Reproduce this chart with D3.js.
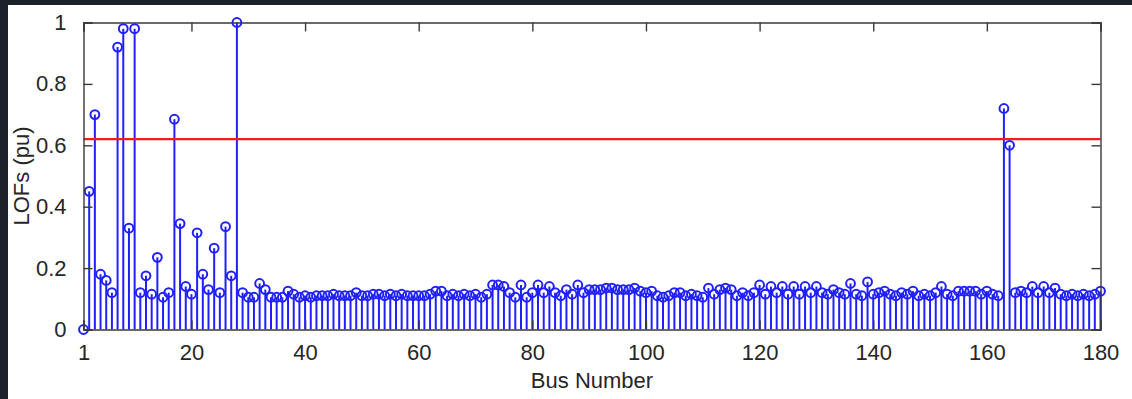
<!DOCTYPE html>
<html>
<head>
<meta charset="utf-8">
<script src="https://cdn.jsdelivr.net/npm/d3@7"></script>
<style>
  html, body { margin: 0; padding: 0; background: #1c212c; }
  svg { display: block; }
  text { font-family: "Liberation Sans", Arial, sans-serif; }
</style>
</head>
<body>
<div id="container"></div>
<script>
const width = 1132, height = 399;

// LOF value per bus (bus numbers 1..180)
const lofValues = [
  0.00, 0.45, 0.70, 0.18, 0.16, 0.12, 0.92, 0.98, 0.33, 0.98,
  0.12, 0.175, 0.115, 0.235, 0.105, 0.12, 0.685, 0.345, 0.14, 0.115,
  0.315, 0.18, 0.13, 0.265, 0.12, 0.335, 0.175, 1.00, 0.12, 0.105,
  0.105, 0.15, 0.13, 0.105, 0.105, 0.105, 0.125, 0.115, 0.105, 0.11,
  0.105, 0.11, 0.11, 0.11, 0.115, 0.11, 0.11, 0.11, 0.12, 0.11,
  0.11, 0.115, 0.115, 0.11, 0.115, 0.11, 0.115, 0.11, 0.11, 0.11,
  0.11, 0.115, 0.125, 0.125, 0.11, 0.115, 0.11, 0.115, 0.11, 0.115,
  0.105, 0.115, 0.145, 0.145, 0.14, 0.12, 0.105, 0.145, 0.105, 0.12,
  0.145, 0.12, 0.14, 0.12, 0.11, 0.13, 0.115, 0.145, 0.12, 0.13,
  0.13, 0.13, 0.135, 0.135, 0.13, 0.13, 0.13, 0.135, 0.125, 0.12,
  0.125, 0.11, 0.105, 0.11, 0.12, 0.12, 0.11, 0.115, 0.11, 0.105,
  0.135, 0.115, 0.13, 0.135, 0.13, 0.11, 0.12, 0.11, 0.12, 0.145,
  0.115, 0.14, 0.12, 0.14, 0.115, 0.14, 0.115, 0.14, 0.12, 0.14,
  0.12, 0.115, 0.13, 0.12, 0.115, 0.15, 0.115, 0.11, 0.155, 0.115,
  0.12, 0.125, 0.115, 0.11, 0.12, 0.115, 0.125, 0.11, 0.115, 0.11,
  0.12, 0.14, 0.115, 0.11, 0.125, 0.125, 0.125, 0.125, 0.115, 0.125,
  0.115, 0.11, 0.72, 0.60, 0.12, 0.125, 0.12, 0.14, 0.12, 0.14,
  0.12, 0.135, 0.115, 0.11, 0.115, 0.11, 0.115, 0.11, 0.115, 0.125
];
const busNumbers = lofValues.map((_, i) => i + 1);
const threshold = 0.62;

const xTicks = [1, 20, 40, 60, 80, 100, 120, 140, 160, 180];
const yTicks = [0, 0.2, 0.4, 0.6, 0.8, 1];

const svg = d3.select("#container").append("svg")
  .attr("width", width).attr("height", height);

// white figure area
svg.append("rect")
  .attr("x", 8).attr("y", 5)
  .attr("width", width - 8).attr("height", height - 5)
  .attr("fill", "#ffffff");

const x = d3.scaleLinear().domain([1, 180]).range([83.5, 1100.5]);
const y = d3.scaleLinear().domain([0, 1]).range([329.5, 22.5]);

const blue = "#2020ff";

// stems
svg.append("g").selectAll("line")
  .data(busNumbers)
  .join("line")
  .attr("x1", d => x(d)).attr("x2", d => x(d))
  .attr("y1", y(0)).attr("y2", (d, i) => y(lofValues[i]))
  .attr("stroke", blue)
  .attr("stroke-width", 2);

// threshold line
svg.append("line")
  .attr("x1", x(1)).attr("x2", x(180))
  .attr("y1", y(threshold)).attr("y2", y(threshold))
  .attr("stroke", "#ff1a1a")
  .attr("stroke-width", 2.2);

// markers
svg.append("g").selectAll("circle")
  .data(busNumbers)
  .join("circle")
  .attr("cx", d => x(d))
  .attr("cy", (d, i) => y(lofValues[i]))
  .attr("r", 4.4)
  .attr("fill", "none")
  .attr("stroke", blue)
  .attr("stroke-width", 2);

// axes, ticks pointing inward
const fmt = d => String(+d.toFixed(1));
const axB = svg.append("g").attr("transform", `translate(0,${y(0)})`)
  .call(d3.axisBottom(x).tickValues(xTicks).tickSize(-9).tickPadding(15).tickFormat(fmt));
const axT = svg.append("g").attr("transform", `translate(0,${y(1)})`)
  .call(d3.axisTop(x).tickValues(xTicks).tickSize(-9).tickFormat(""));
const axL = svg.append("g").attr("transform", `translate(${x(1)},0)`)
  .call(d3.axisLeft(y).tickValues(yTicks).tickSize(-9).tickPadding(17).tickFormat(fmt));
const axR = svg.append("g").attr("transform", `translate(${x(180)},0)`)
  .call(d3.axisRight(y).tickValues(yTicks).tickSize(-9).tickFormat(""));

for (const ax of [axB, axT, axL, axR]) {
  ax.select(".domain").attr("stroke", "#3a3a3a").attr("stroke-width", 1.4);
  ax.selectAll(".tick line").attr("stroke", "#3a3a3a").attr("stroke-width", 1.4);
  ax.selectAll("text").attr("fill", "#262626")
    .style("font-size", "22px")
    .style("font-family", "'Liberation Sans', Arial, sans-serif");
}

// axis labels
svg.append("text")
  .attr("x", (x(1) + x(180)) / 2)
  .attr("y", 388)
  .attr("text-anchor", "middle")
  .attr("fill", "#262626")
  .style("font-size", "22px")
  .text("Bus Number");

svg.append("text")
  .attr("transform", `translate(29,${(y(0) + y(1)) / 2}) rotate(-90)`)
  .attr("text-anchor", "middle")
  .attr("fill", "#262626")
  .style("font-size", "22px")
  .text("LOFs (pu)");
</script>
</body>
</html>
